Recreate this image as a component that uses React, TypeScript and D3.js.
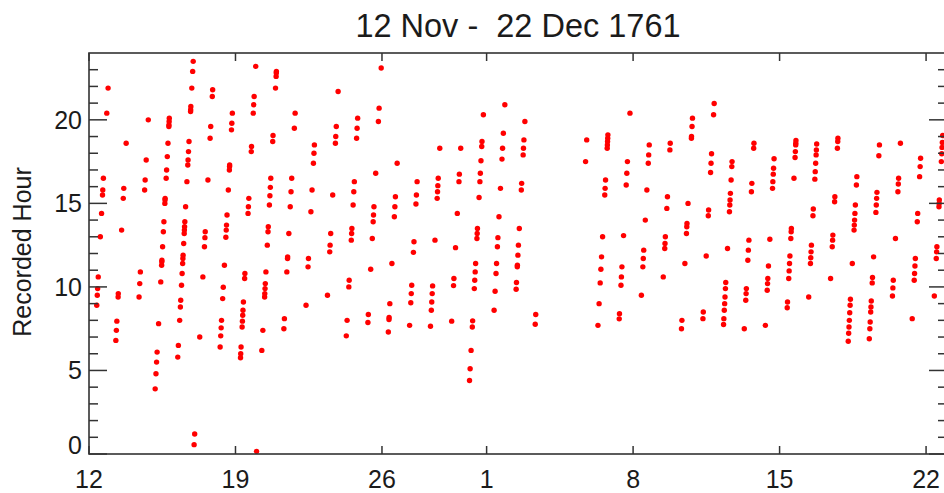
import React from "react";
import * as d3 from "d3";

// Day offsets since 12 Nov 1761 and the recorded hours on each day
const dayOffsets: number[] = Array.from({ length: 41 }, (_, i) => i);
const recordedHours: number[][] = [
  [8.9, 9.5, 9.9, 10.6, 13.0, 14.4, 15.5, 15.8, 16.5, 20.4, 21.9],
  [6.8, 7.4, 7.95, 9.4, 9.6, 13.4, 15.3, 15.9, 18.6],
  [9.4, 10.2, 10.9, 15.8, 16.4, 17.6, 20.0],
  [3.9, 4.8, 5.5, 6.1, 7.8, 10.3, 11.3, 11.5, 11.6, 12.4, 13.3, 13.9, 15.0, 15.2, 15.3, 16.5, 17.0, 17.8, 18.6, 19.6, 19.7, 19.9, 20.1],
  [5.8, 6.5, 8.0, 8.8, 9.2, 10.1, 10.8, 11.4, 11.7, 11.9, 12.6, 13.2, 13.4, 13.6, 13.9, 14.8, 16.3, 17.3, 17.6, 18.1, 18.7, 20.5, 20.6, 20.8, 21.9, 22.9, 23.5],
  [0.56, 1.2, 7.0, 10.6, 12.4, 12.95, 13.3, 16.4, 18.9, 19.6, 21.4, 21.8],
  [6.4, 7.07, 7.55, 8.0, 9.3, 9.98, 11.3, 12.97, 13.4, 13.7, 14.3, 15.8, 17.0, 17.2, 17.3, 19.4, 19.8, 20.4],
  [5.76, 6.0, 6.4, 7.6, 7.95, 8.3, 8.6, 9.1, 10.5, 10.8, 14.4, 14.8, 15.3, 18.1, 18.4, 20.4, 20.9, 21.4, 23.2],
  [0.16, 6.2, 7.4, 9.4, 9.6, 9.9, 10.2, 10.9, 12.5, 13.3, 13.6, 14.9, 15.46, 15.96, 16.5, 18.7, 19.06, 21.9, 22.6, 22.8, 22.9],
  [7.5, 8.1, 10.9, 11.7, 11.8, 13.2, 14.8, 15.7, 16.5, 19.5, 20.4],
  [8.9, 11.2, 11.7, 14.5, 15.8, 17.4, 18.0, 18.5],
  [9.5, 12.1, 12.5, 13.2, 15.5, 18.6, 19.0, 19.6, 21.7],
  [7.07, 8.0, 10.0, 10.4, 12.8, 13.2, 13.5, 14.9, 15.7, 16.3, 18.9, 19.5, 20.1],
  [7.87, 8.35, 11.06, 12.9, 13.9, 14.3, 14.8, 16.8, 19.9, 20.7, 23.1],
  [7.3, 8.05, 8.17, 9.0, 11.4, 14.2, 14.8, 15.4, 17.4],
  [7.7, 9.05, 9.6, 10.1, 12.07, 12.7, 14.96, 15.5, 16.3],
  [7.65, 8.6, 9.1, 9.6, 10.06, 12.8, 15.3, 15.7, 16.06, 16.5, 18.3],
  [7.95, 10.08, 10.5, 12.35, 14.4, 16.3, 16.75, 18.3],
  [4.4, 5.1, 6.2, 7.6, 7.97, 9.9, 10.4, 10.9, 11.4, 12.9, 13.2, 13.5, 15.35, 16.3, 16.8, 17.55, 18.4, 18.7, 20.3],
  [8.6, 9.74, 10.8, 11.4, 12.4, 12.95, 14.2, 15.9, 17.65, 18.3, 19.2, 20.9],
  [9.86, 10.26, 11.2, 11.3, 11.9, 12.5, 13.5, 15.8, 16.2, 17.9, 18.3, 18.8, 19.9],
  [7.77, 8.35],
  [],
  [17.5, 18.8],
  [7.7, 9.0, 10.24, 11.06, 11.8, 13.0, 15.5, 15.9, 16.4, 18.3, 18.5, 18.7, 18.9, 19.1],
  [8.09, 8.4, 10.1, 10.6, 11.2, 13.07, 16.1, 16.8, 17.5, 20.4],
  [9.5, 11.2, 11.7, 12.2, 14.0, 15.8, 17.4, 17.9, 18.5],
  [10.6, 12.3, 12.6, 13.0, 14.7, 15.4, 18.2, 18.6],
  [7.5, 8.0, 11.4, 13.2, 13.6, 13.8, 15.0, 18.9, 19.0, 19.6, 20.1],
  [8.1, 8.5, 11.85, 14.26, 14.6, 16.85, 17.4, 17.97, 20.3, 20.98],
  [7.75, 8.1, 8.6, 9.0, 9.4, 9.9, 10.26, 12.3, 14.5, 14.9, 15.2, 15.6, 16.4, 17.2, 17.5],
  [7.5, 9.2, 9.6, 9.9, 11.6, 12.2, 12.8, 15.7, 16.2, 18.3, 18.6],
  [7.7, 9.8, 10.2, 10.5, 11.25, 12.85, 15.9, 16.3, 16.75, 17.1, 17.67],
  [8.75, 9.1, 10.5, 10.96, 11.4, 11.85, 12.9, 13.3, 13.5, 16.5, 17.75, 18.1, 18.5, 18.6, 18.76],
  [9.4, 11.4, 11.75, 12.1, 12.5, 14.26, 14.66, 16.45, 16.9, 17.4, 17.9, 18.2, 18.55],
  [10.5, 12.4, 12.8, 13.1, 15.1, 15.4, 18.3, 18.7, 18.9],
  [6.75, 7.23, 7.6, 8.0, 8.45, 8.9, 9.26, 11.4, 13.4, 13.7, 14.0, 14.4, 14.9, 16.1, 16.6],
  [6.9, 7.5, 7.9, 8.5, 8.8, 9.16, 10.24, 10.56, 11.8, 14.46, 14.9, 15.3, 15.66, 17.85, 18.5],
  [9.46, 9.94, 10.4, 12.9, 15.7, 16.16, 16.5, 18.6],
  [8.1, 10.4, 10.8, 11.25, 11.7, 13.9, 14.4, 16.6, 17.2, 17.7],
  [9.46, 11.7, 12.1, 12.4, 14.8, 15.0, 15.2, 17.5, 17.97, 18.35, 18.65, 19.06],
];

const xTickDays = [0, 7, 14, 19, 26, 33, 40];
const xTickLabels = ["12", "19", "26", "1", "8", "15", "22"];
const yMajorTicks = [0, 5, 10, 15, 20];
const yMinorTicks = d3.range(1, 24).filter((v) => v % 5 !== 0);

const title = "12 Nov -  22 Dec 1761";
const yLabel = "Recorded Hour";

const W = 944;
const H = 493;
const left = 89;
const right = 947;
const top = 53;
const bottom = 454;

export default function App() {
  const x = d3.scaleLinear().domain([0, 41]).range([left, right]);
  const y = d3.scaleLinear().domain([0, 24]).range([bottom, top]);

  const points = dayOffsets.flatMap((d) =>
    (recordedHours[d] || []).map((h) => ({ t: d + h / 24, h }))
  );

  const font = "'Liberation Sans', Arial, sans-serif";
  const ink = "#1b1b1b";
  const axisColor = "#333";

  return (
    <svg
      width={W}
      height={H}
      style={{ position: "absolute", left: 0, top: 0, background: "#fff" }}
    >
      <rect x={0} y={0} width={W} height={H} fill="#fff" />
      <text
        x={518}
        y={37}
        textAnchor="middle"
        fontFamily={font}
        fontSize={32.5}
        fill={ink}
        style={{ whiteSpace: "pre" }}
      >
        {title}
      </text>

      {points.map((p, i) => (
        <circle key={i} cx={x(p.t)} cy={y(p.h)} r={2.7} fill="#ff0000" />
      ))}

      <rect
        x={left}
        y={top}
        width={right - left}
        height={bottom - top}
        fill="none"
        stroke={axisColor}
        strokeWidth={1.6}
      />

      {yMajorTicks.map((v) => (
        <g key={"M" + v}>
          <line x1={left} x2={left + 18} y1={y(v)} y2={y(v)} stroke={axisColor} strokeWidth={1.5} />
          <line x1={right} x2={right - 18} y1={y(v)} y2={y(v)} stroke={axisColor} strokeWidth={1.5} />
          <text
            x={82}
            y={v === 0 ? 454 : y(v) + 9}
            textAnchor="end"
            fontFamily={font}
            fontSize={25}
            fill={ink}
          >
            {v}
          </text>
        </g>
      ))}
      {yMinorTicks.map((v) => (
        <g key={"m" + v}>
          <line x1={left} x2={left + 9} y1={y(v)} y2={y(v)} stroke={axisColor} strokeWidth={1.5} />
          <line x1={right} x2={right - 9} y1={y(v)} y2={y(v)} stroke={axisColor} strokeWidth={1.5} />
        </g>
      ))}

      {xTickDays.map((d, i) => (
        <g key={"x" + d}>
          <line x1={x(d)} x2={x(d)} y1={bottom} y2={bottom - 8} stroke={axisColor} strokeWidth={1.5} />
          <line x1={x(d)} x2={x(d)} y1={top} y2={top + 8} stroke={axisColor} strokeWidth={1.5} />
          <text
            x={x(d)}
            y={488}
            textAnchor="middle"
            fontFamily={font}
            fontSize={25}
            fill={ink}
          >
            {xTickLabels[i]}
          </text>
        </g>
      ))}

      <text
        transform="translate(31,252) rotate(-90)"
        textAnchor="middle"
        fontFamily={font}
        fontSize={25}
        fill={ink}
      >
        {yLabel}
      </text>
    </svg>
  );
}
